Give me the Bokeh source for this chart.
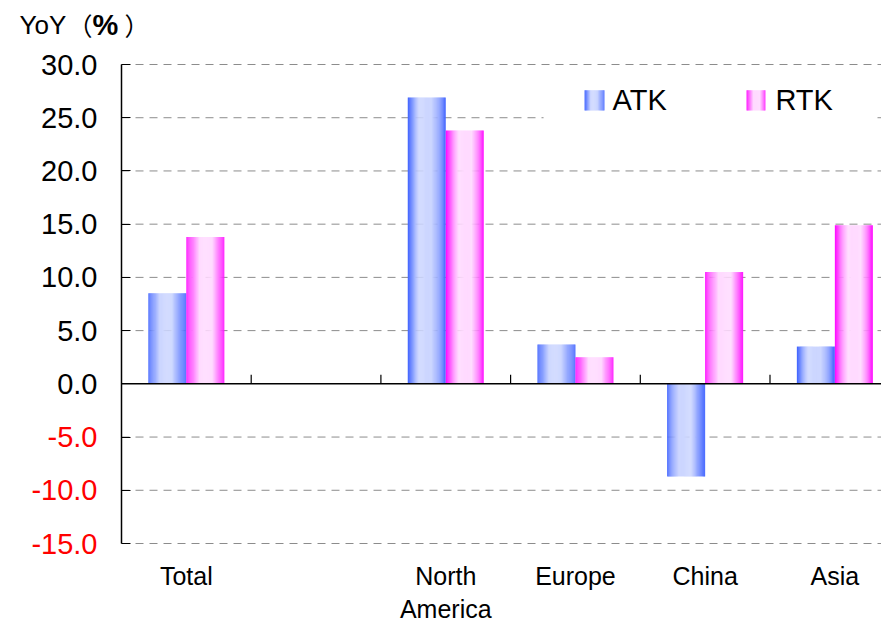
from bokeh.plotting import figure
from bokeh.models import (Range1d, FixedTicker, CustomJSTickFormatter, Label,
                          LinearAxis, ColumnDataSource)
from bokeh.embed import file_html
from bokeh.resources import INLINE

# ---- data -------------------------------------------------------------
categories = ["Total", "", "North\nAmerica", "Europe", "China", "Asia"]
atk = [8.5, float("nan"), 26.9, 3.7, -8.7, 3.5]
rtk = [13.8, float("nan"), 23.8, 2.5, 10.5, 14.9]
series_names = ["ATK", "RTK"]
y_ticks = [-15, -10, -5, 0, 5, 10, 15, 20, 25, 30]

# ---- layout (pixels) ----------------------------------------------------
W, H = 881, 628
PLOT_LEFT, PLOT_TOP, PLOT_BOTTOM = 121, 64, 543
CAT_PX = 129.7                     # width of one category slot
Y_MIN, Y_MAX = -15, 30
PX_PER_UNIT = (PLOT_BOTTOM - PLOT_TOP) / (Y_MAX - Y_MIN)

# the whole canvas is the drawing frame; the value axis sits at x = -0.5
X0 = -0.5 - PLOT_LEFT / CAT_PX
X1 = -0.5 + (W - PLOT_LEFT) / CAT_PX
Y1 = Y_MAX + PLOT_TOP / PX_PER_UNIT
Y0 = Y_MIN - (H - PLOT_BOTTOM) / PX_PER_UNIT
AXIS_X = -0.5

FONT = "Liberation Sans"
CJK = "Noto Sans CJK JP"
BAR_W = 0.293          # width of one bar, in category units
N_STRIPS = 36          # vertical strips used to shade each bar


def gradient(edge, center, a, b, n):
    """Saturated at both edges, pale and flat between fractions a and b."""
    cols = []
    for k in range(n):
        t = (k + 0.5) / n
        if t < a:
            f = t / a
        elif t > b:
            f = (1 - t) / (1 - b)
        else:
            f = 1.0
        f = f ** 0.8
        c = tuple(round(e + (m - e) * f) for e, m in zip(edge, center))
        cols.append("#%02x%02x%02x" % c)
    return cols


atk_cols = gradient((58, 94, 255), (204, 214, 255), 0.30, 0.62, N_STRIPS)
rtk_cols = gradient((255, 0, 255), (255, 218, 255), 0.35, 0.68, N_STRIPS)


def add_strips(store, left, right, bottom, top, colors):
    n = len(colors)
    step = (right - left) / n
    for k, c in enumerate(colors):
        store["left"].append(left + k * step)
        store["right"].append(left + (k + 1) * step + (step * 0.25 if k < n - 1 else 0))
        store["bottom"].append(bottom)
        store["top"].append(top)
        store["color"].append(c)


bars = dict(left=[], right=[], bottom=[], top=[], color=[])
for i, (a, r) in enumerate(zip(atk, rtk)):
    if a == a:
        add_strips(bars, i - BAR_W, i, 0, a, atk_cols)
    if r == r:
        add_strips(bars, i, i + BAR_W, 0, r, rtk_cols)

# ---- figure -----------------------------------------------------------
p = figure(width=W, height=H,
           x_range=Range1d(X0, X1), y_range=Range1d(Y0, Y1),
           output_backend="svg", toolbar_location=None,
           min_border_left=0, min_border_right=0,
           min_border_top=0, min_border_bottom=0,
           x_axis_location=None, y_axis_location=None)
p.outline_line_color = None
p.background_fill_color = "white"
p.border_fill_color = "white"
p.xgrid.visible = False
p.ygrid.visible = False

# dashed value grid
grid_y = [t for t in y_ticks if t != 0]
p.segment(x0=[AXIS_X] * len(grid_y), x1=[X1] * len(grid_y), y0=grid_y, y1=grid_y,
          line_color="#8c8c8c", line_width=1, line_dash="8 6")


def value_axis(ticks, color):
    ax = LinearAxis(fixed_location=AXIS_X, ticker=FixedTicker(ticks=ticks),
                    formatter=CustomJSTickFormatter(code="return tick.toFixed(1);"))
    ax.major_tick_in = 9
    ax.major_tick_out = 0
    ax.minor_tick_line_color = None
    ax.axis_line_color = None
    ax.major_tick_line_color = "black"
    ax.major_tick_line_width = 1.2
    ax.major_label_standoff = 24
    ax.major_label_text_font = FONT
    ax.major_label_text_font_size = "29px"
    ax.major_label_text_color = color
    return ax


# value axis: non-negative ticks in black, negative ones in red
p.add_layout(value_axis([t for t in y_ticks if t >= 0], "black"), "left")
p.add_layout(value_axis([t for t in y_ticks if t < 0], "red"), "left")
p.segment(x0=[AXIS_X], x1=[AXIS_X], y0=[Y_MIN], y1=[Y_MAX],
          line_color="black", line_width=1.5)

# category labels under the plotting area
xax = LinearAxis(fixed_location=Y_MIN, ticker=FixedTicker(ticks=list(range(len(categories)))),
                 formatter=CustomJSTickFormatter(args=dict(labels=categories),
                                                 code="return labels[Math.round(tick)];"))
xax.axis_line_color = None
xax.major_tick_line_color = None
xax.minor_tick_line_color = None
xax.major_tick_in = 0
xax.major_tick_out = 0
xax.major_label_standoff = 18
xax.major_label_text_font = FONT
xax.major_label_text_font_size = "25px"
xax.major_label_text_color = "black"
p.add_layout(xax, "below")

# bars
p.quad(left="left", right="right", bottom="bottom", top="top", fill_color="color",
       line_color=None, source=ColumnDataSource(bars))

# zero line with category separators
p.segment(x0=[AXIS_X], x1=[X1], y0=[0], y1=[0], line_color="black", line_width=1.5)
sep_x = [i + 0.5 for i in range(len(categories) - 1)]
p.segment(x0=sep_x, x1=sep_x, y0=[0] * len(sep_x), y1=[9 / PX_PER_UNIT] * len(sep_x),
          line_color="black", line_width=1.2)

# legend
p.quad(left=[2.754], right=[5.306], bottom=[23.6], top=[29.4],
       fill_color="white", line_color=None)
leg = dict(left=[], right=[], bottom=[], top=[], color=[])
sw_bottom, sw_top = 25.69, 27.57
add_strips(leg, 3.070, 3.224, sw_bottom, sw_top, atk_cols[::2])
add_strips(leg, 4.319, 4.465, sw_bottom, sw_top, rtk_cols[::2])
p.quad(left="left", right="right", bottom="bottom", top="top", fill_color="color",
       line_color=None, source=ColumnDataSource(leg))
for name, lx in zip(series_names, [3.286, 4.542]):
    p.add_layout(Label(x=lx, y=(sw_bottom + sw_top) / 2, text=name,
                       text_baseline="middle", text_align="left",
                       text_font=FONT, text_font_size="29px", text_color="black"))

# unit caption above the value axis
cap_dy = 40
for text, left_px, font, size, style in [("YoY", 19, FONT, "26px", "normal"),
                                         ("（", 67, CJK, "25px", "normal"),
                                         ("%", 92, FONT, "29px", "bold"),
                                         ("）", 124, CJK, "25px", "normal")]:
    p.add_layout(Label(x=AXIS_X, y=Y_MAX, x_offset=left_px - PLOT_LEFT, y_offset=cap_dy,
                       text=text, text_align="left", text_baseline="alphabetic",
                       text_font=font, text_font_size=size, text_font_style=style,
                       text_color="black"))

open("out.html", "w").write(file_html(p, INLINE))
